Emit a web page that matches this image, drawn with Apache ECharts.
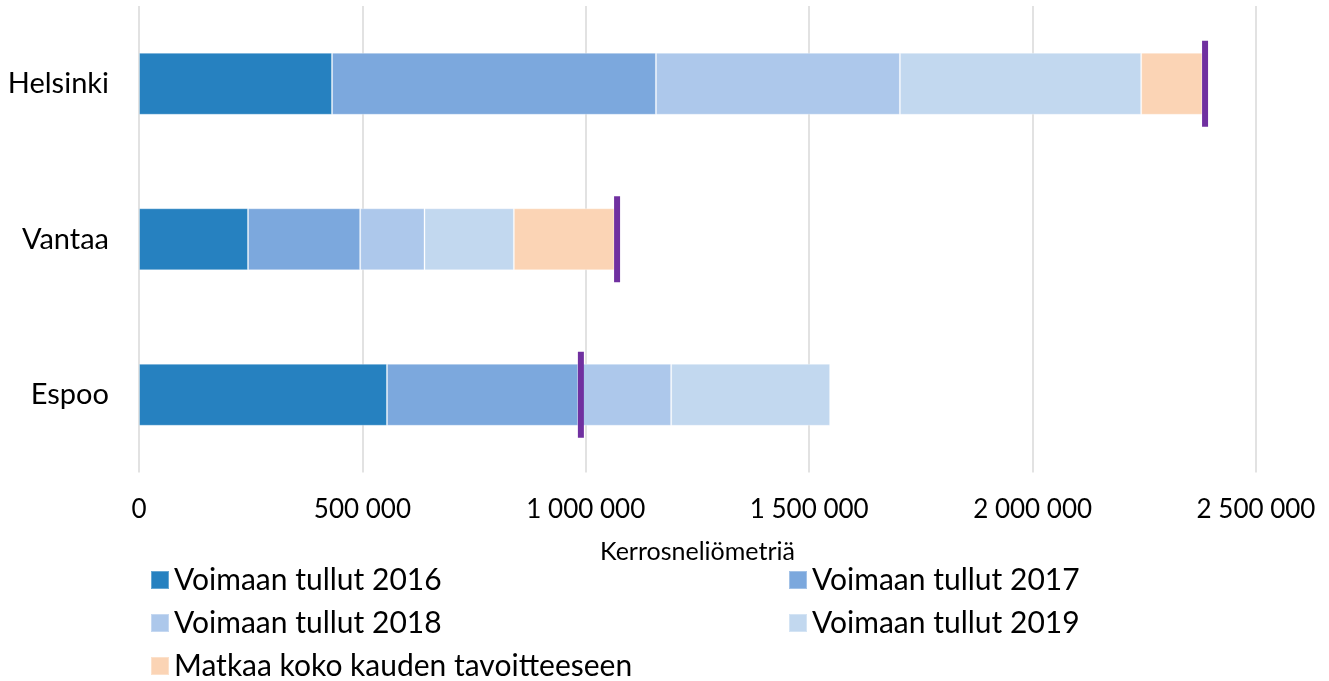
<!DOCTYPE html>
<html>
<head>
<meta charset="utf-8">
<title>Kerrosneliömetriä</title>
<script src="https://cdn.jsdelivr.net/npm/echarts@6/dist/echarts.min.js"></script>
<style>
    html, body { margin: 0; padding: 0; background: #fff; }
    #main { width: 1329px; height: 681px; }
</style>
</head>
<body>
<div id="main"></div>
<script>
    var cities = ['Helsinki', 'Vantaa', 'Espoo'];

    var names = [
        'Voimaan tullut 2016',
        'Voimaan tullut 2017',
        'Voimaan tullut 2018',
        'Voimaan tullut 2019',
        'Matkaa koko kauden tavoitteeseen'
    ];

    // kerrosneliömetriä per city, same order as cities
    var v2016 = [432000, 244000, 555000];
    var v2017 = [725000, 251000, 428000];
    var v2018 = [546000, 144000, 208000];
    var v2019 = [540000, 200000, 356000];
    var matkaa = [137000, 225000, 0];
    var target = [2386000, 1070000, 989000];

    var xTicks = [0, 500000, 1000000, 1500000, 2000000, 2500000];

    var colors = ['#2681c0', '#7ca8dd', '#adc8eb', '#c2d8ef', '#fbd4b5'];
    var font = 'Lato, "Open Sans", sans-serif';

    var myChart = echarts.init(document.getElementById('main'));

    function fmt(value) {
        return String(value).replace(/\B(?=(\d{3})+(?!\d))/g, ' ');
    }

    var series = [];
    [v2016, v2017, v2018, v2019, matkaa].forEach(function(d, i) {
        series.push({
            name: names[i],
            type: 'bar',
            stack: 'total',
            barWidth: 62,
            data: d,
            itemStyle: { color: colors[i], borderColor: 'rgba(255,255,255,0.3)', borderWidth: 1 }
        });
    });

    // target marker (purple line)
    series.push({
        name: 'tavoite',
        type: 'scatter',
        symbol: 'rect',
        symbolSize: [6, 86],
        z: 5,
        data: target.map(function(t, i) { return [t, cities[i]]; }),
        itemStyle: { color: '#7030a0', opacity: 1 }
    });

    // one legend per item so the two-column layout stays put
    var legendPos = [[150, 565], [788, 565], [150, 608], [788, 608], [150, 651]];
    var legends = names.map(function(n, i) {
        return {
            data: [n],
            left: legendPos[i][0],
            top: legendPos[i][1],
            padding: 0,
            itemWidth: 18,
            itemHeight: 18,
            itemGap: 8,
            icon: 'rect',
            textStyle: { fontFamily: font, fontSize: 30, color: '#000', lineHeight: 28 }
        };
    });

    var option = {
        animation: false,
        textStyle: { fontFamily: font },
        grid: { left: 139, right: 73, top: 6, bottom: 208.5 },
        legend: legends,
        xAxis: {
            type: 'value',
            min: xTicks[0],
            max: xTicks[xTicks.length - 1],
            interval: xTicks[1] - xTicks[0],
            name: 'Kerrosneliömetriä',
            nameLocation: 'middle',
            nameGap: 67,
            nameTextStyle: { fontFamily: font, fontSize: 25, color: '#000' },
            axisLine: { show: false },
            axisTick: { show: false },
            axisLabel: { fontFamily: font, fontSize: 26, color: '#000', margin: 24, formatter: fmt },
            splitLine: { lineStyle: { color: '#d9d9d9', width: 1.5 } }
        },
        yAxis: {
            type: 'category',
            data: cities,
            inverse: true,
            axisLine: { show: false },
            axisTick: { show: false },
            axisLabel: { fontFamily: font, fontSize: 29, color: '#000', margin: 30 }
        },
        series: series
    };

    myChart.setOption(option);
</script>
</body>
</html>
